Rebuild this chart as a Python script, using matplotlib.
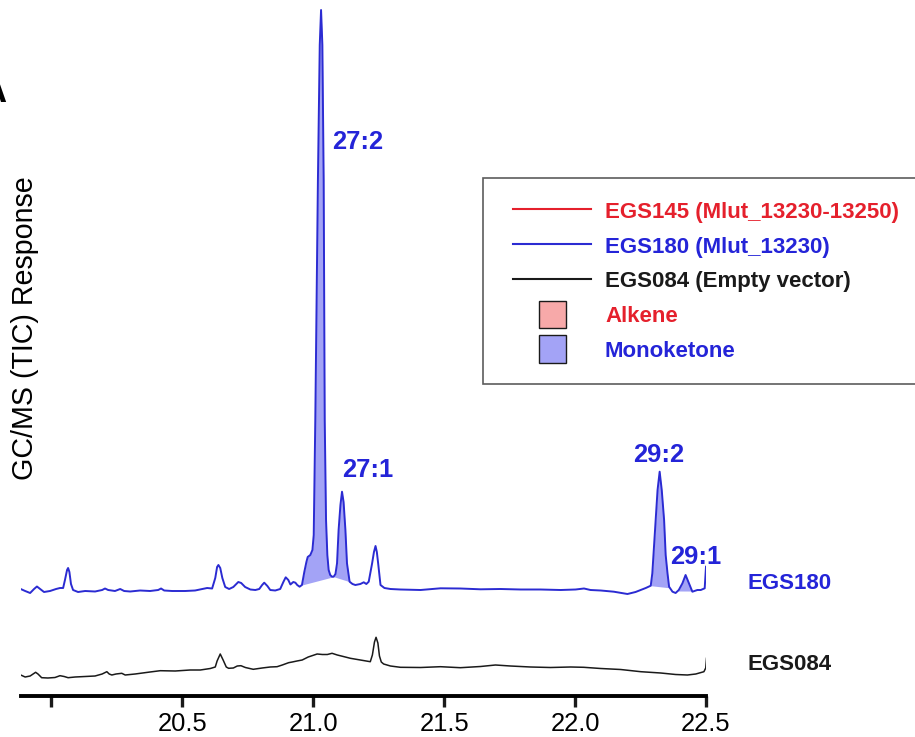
import numpy as np
import matplotlib
matplotlib.use("Agg")
import matplotlib.pyplot as plt
from matplotlib.lines import Line2D
from matplotlib.patches import Patch, Rectangle
from matplotlib.legend_handler import HandlerLine2D, HandlerPatch

plt.rcParams['font.family'] = ['Liberation Sans', 'DejaVu Sans']

# ---------------- data (retention time in min, response in arbitrary units) -------------
blue_rt = [19.883, 19.900, 19.919, 19.934, 19.945, 19.957, 19.972, 19.995, 20.018, 20.033,
           20.045, 20.052, 20.060, 20.064, 20.069, 20.075, 20.083, 20.102, 20.129, 20.167,
           20.194, 20.205, 20.217, 20.243, 20.263, 20.278, 20.301, 20.339, 20.377, 20.408,
           20.419, 20.431, 20.461, 20.511, 20.549, 20.576, 20.595, 20.614, 20.626, 20.633,
           20.638, 20.645, 20.653, 20.664, 20.679, 20.695, 20.714, 20.725, 20.740, 20.760,
           20.779, 20.794, 20.805, 20.813, 20.825, 20.836, 20.855, 20.874, 20.886, 20.895,
           20.905, 20.913, 20.924, 20.932, 20.939, 20.948, 20.957, 20.966, 20.974, 20.979,
           20.989, 20.997, 21.002, 21.008, 21.018, 21.025, 21.030, 21.035, 21.040, 21.044,
           21.049, 21.054, 21.059, 21.065, 21.072, 21.078, 21.085, 21.091, 21.097, 21.104,
           21.110, 21.116, 21.123, 21.129, 21.139, 21.150, 21.161, 21.180, 21.193, 21.203,
           21.212, 21.225, 21.232, 21.238, 21.243, 21.248, 21.257, 21.272, 21.295, 21.333,
           21.410, 21.486, 21.562, 21.639, 21.715, 21.792, 21.868, 21.945, 22.002, 22.034,
           22.059, 22.098, 22.148, 22.200, 22.231, 22.251, 22.270, 22.289, 22.295, 22.308,
           22.315, 22.323, 22.331, 22.340, 22.346, 22.353, 22.359, 22.372, 22.384, 22.396,
           22.410, 22.422, 22.435, 22.448, 22.467, 22.480, 22.495, 22.500]
blue_resp = [1, -1, -3, 1, 3.5, 1, -2, -1, 1, 2,
             2, 10, 20, 22, 18, 6, 0, -2, -1, -1.5,
             0, 1.5, 0, -1, 1, -1, -1.5, -0.5, -1, 0,
             1.5, -0.5, -1, -1, -0.5, 1, 2, 1.5, 12, 23,
             25, 22, 12, 3, 1, 3, 8, 7, 3, 0.5,
             0, 1, 5, 7.3, 4, 0, -0.5, 1, 8, 12.7,
             10, 5.5, 8, 7.3, 5, 3.3, 5, 18, 28, 33,
             35, 40, 55, 170, 410, 545, 580, 545, 410, 170,
             70, 35, 20, 15, 13.3, 13.3, 16, 26.7, 60, 85,
             98.3, 88, 60, 26.7, 8.3, 6, 5, 6, 7.7, 6,
             8.3, 26.7, 38, 44, 38, 26.7, 5, 2, 1, 0.5,
             0, 1.7, 1.5, 0.7, 1, 0.5, 0.5, 0, 0.5, 1.5,
             0, -0.5, -1.7, -4, -2, 0, 2, 4.3, 16.7, 70,
             100, 118.3, 100, 70, 35, 16.7, 3.3, -1.7, -3, 0,
             6.7, 15, 6.7, -1.7, 0, 0, 1.7, 23.3]

black_rt = [19.883, 19.900, 19.919, 19.940, 19.949, 19.963, 19.987, 20.014, 20.033, 20.049,
            20.064, 20.091, 20.129, 20.167, 20.194, 20.212, 20.221, 20.231, 20.247, 20.269,
            20.282, 20.320, 20.377, 20.416, 20.473, 20.530, 20.569, 20.607, 20.626, 20.633,
            20.645, 20.656, 20.668, 20.677, 20.695, 20.710, 20.724, 20.741, 20.771, 20.805,
            20.836, 20.862, 20.882, 20.906, 20.920, 20.938, 20.958, 20.981, 21.015, 21.035,
            21.054, 21.072, 21.092, 21.115, 21.142, 21.180, 21.218, 21.226, 21.234, 21.240,
            21.247, 21.253, 21.260, 21.269, 21.295, 21.333, 21.410, 21.486, 21.562, 21.639,
            21.696, 21.753, 21.830, 21.906, 21.983, 22.033, 22.098, 22.174, 22.251, 22.327,
            22.384, 22.429, 22.461, 22.492, 22.499, 22.502]
black_resp = [2, 0, 1, 4.7, 3, -0.7, -1, -0.5, 1.3, 0.5,
              -0.7, 0, 0.5, 1, 3, 5.3, 3, 2, 3, 3.7,
              2, 3, 5, 6.3, 6, 7, 7, 8.5, 10, 16,
              23, 17, 10, 8.7, 9, 11, 11.3, 9.5, 7.7, 9,
              10, 10.3, 12, 14.3, 15, 16, 17, 20, 23, 22.5,
              22.5, 23.7, 22, 20.5, 18.7, 17, 15.3, 22, 35, 39.7,
              34, 21, 15, 13, 11, 9.7, 9.5, 10.3, 9.3, 10.5,
              12, 11, 10, 9.5, 10, 9.7, 8.5, 7.5, 5.3, 4,
              2.5, 2, 3, 5.3, 9, 18.7]

# integration windows of the monoketone peaks (start, end retention time)
ketone_windows = [(20.957, 21.078), (21.078, 21.139), (22.289, 22.362), (22.392, 22.447)]
peak_labels = ["27:2", "27:1", "29:2", "29:1"]
peak_label_rt = [21.168, 21.210, 22.320, 22.461]
peak_label_resp = [448.3, 120.0, 135.0, 33.3]

trace_names = ["EGS180", "EGS084"]
legend_labels = ["EGS145 (Mlut_13230-13250)", "EGS180 (Mlut_13230)",
                 "EGS084 (Empty vector)", "Alkene", "Monoketone"]
tick_values = [20.0, 20.5, 21.0, 21.5, 22.0, 22.5]
tick_labels = ["", "20.5", "21.0", "21.5", "22.0", "22.5"]

# ---------------- style ----------------
BLUE = "#2b2bd2"
BLUE_TXT = "#2424d8"
RED = "#e5202c"
BLACK = "#1a1a1a"
KETONE_FILL = "#a3a3f6"
ALKENE_FILL = "#f7a9a9"
offset_blue = 105.7
offset_black = 18.7

fig = plt.figure(figsize=(9.15, 7.37), dpi=100)
ax = fig.add_axes([20.7 / 915, 41.3 / 737, 685.3 / 915, 695.7 / 737])

brt = np.array(blue_rt)
brs = np.array(blue_resp)

# shaded monoketone peaks
for a, b in ketone_windows:
    mask = (brt > a) & (brt < b)
    xs = np.concatenate([[a], brt[mask], [b]])
    ys = np.interp(xs, brt, brs)
    base = np.interp(xs, [a, b], [np.interp(a, brt, brs), np.interp(b, brt, brs)])
    ax.fill_between(xs, base + offset_blue, ys + offset_blue, color=KETONE_FILL, lw=0, zorder=1)

ax.plot(brt, brs + offset_blue, color=BLUE, lw=1.4, zorder=3)
ax.plot(black_rt, np.array(black_resp) + offset_black, color=BLACK, lw=1.1, zorder=3)

for lab, x, y in zip(peak_labels, peak_label_rt, peak_label_resp):
    ax.text(x, y + offset_blue, lab, color=BLUE_TXT, fontsize=18.4, fontweight='bold',
            ha='center', va='center')

ax.text(22.66, 6.7 + offset_blue, trace_names[0], color=BLUE_TXT, fontsize=16,
        fontweight='bold', ha='left', va='center', clip_on=False)
ax.text(22.66, 12.0 + offset_black, trace_names[1], color=BLACK, fontsize=16,
        fontweight='bold', ha='left', va='center', clip_on=False)

ax.set_xlim(19.883, 22.5)
ax.set_ylim(0, 695.7)
for s in ['top', 'right', 'left']:
    ax.spines[s].set_visible(False)
ax.spines['bottom'].set_linewidth(2.8)
ax.set_yticks([])
ax.set_xticks(tick_values)
ax.set_xticklabels(tick_labels)
ax.tick_params(axis='x', length=8, width=2.4, labelsize=18.4, pad=4, color=BLACK)
ax.patch.set_alpha(0)

ax.set_ylabel("GC/MS (TIC) Response", fontsize=20.6)
ax.yaxis.set_label_coords(0.0063, 0.5285)
ax.yaxis.label.set_va('center')

fig.text(6 / 915, 1 - 102 / 737, "A", fontsize=26, fontweight='bold', ha='right', va='baseline')

# ---------------- legend ----------------
class ShiftedLine(HandlerLine2D):
    def create_artists(self, legend, orig_handle, xdescent, ydescent, width, height, fontsize, trans):
        shift = 0.35 * fontsize
        return super().create_artists(legend, orig_handle, xdescent - shift, ydescent,
                                      width - shift, height, fontsize, trans)


def square_patch(legend, orig_handle, xdescent, ydescent, width, height, fontsize):
    side = 1.25 * fontsize
    cx = -xdescent + width / 2 + 0.2 * fontsize
    cy = -ydescent + height / 2
    return Rectangle((cx - side / 2, cy - side / 2), side, side)


handles = [Line2D([], [], color=RED, lw=1.5),
           Line2D([], [], color=BLUE, lw=1.5),
           Line2D([], [], color=BLACK, lw=1.5),
           Patch(facecolor=ALKENE_FILL, edgecolor=BLACK, lw=1.0),
           Patch(facecolor=KETONE_FILL, edgecolor=BLACK, lw=1.0)]
leg = ax.legend(handles, legend_labels, loc='upper left',
                bbox_to_anchor=(483 / 915, 1 - 178 / 737), bbox_transform=fig.transFigure,
                prop={'size': 16, 'weight': 'bold'}, frameon=True, fancybox=False,
                borderpad=1.0, handlelength=3.85, handletextpad=0.64, labelspacing=0.55,
                borderaxespad=0, handleheight=1.0,
                handler_map={Line2D: ShiftedLine(), Patch: HandlerPatch(patch_func=square_patch)})
leg.get_frame().set_edgecolor("#333333")
leg.get_frame().set_linewidth(1.2)
for t, c in zip(leg.get_texts(), [RED, BLUE_TXT, BLACK, RED, BLUE_TXT]):
    t.set_color(c)

fig.savefig("out.png", dpi=100)
